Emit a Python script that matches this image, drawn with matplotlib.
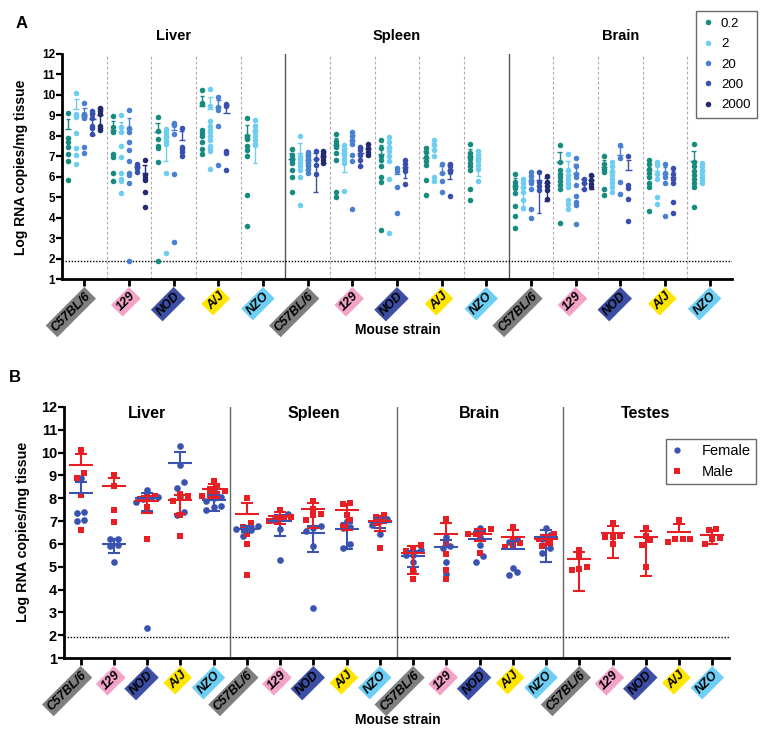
import numpy as np
import matplotlib
matplotlib.use("Agg")
import matplotlib.pyplot as plt
from matplotlib.lines import Line2D

plt.rcParams['font.family'] = ['Liberation Sans', 'DejaVu Sans']

# ---------------- data ----------------
strains = ['C57BL/6', '129', 'NOD', 'A/J', 'NZO']
strain_colors = ['#7f7f7f', '#f4a3c8', '#3d4fa5', '#ffe600', '#6dcff6']
tissues_a = ['Liver', 'Spleen', 'Brain']
tissues_b = ['Liver', 'Spleen', 'Brain', 'Testes']
doses = ['0.2', '2', '20', '200', '2000']
dose_colors = ['#178b80', '#6fcdf0', '#4a80d0', '#3a4fad', '#232a72']
lod = 1.9

# Panel A: per tissue -> per strain -> per dose (log RNA copies/mg)
liver_a = [
    [[9.1, 7.9, 7.7, 7.45, 7.1, 6.75, 5.85],
     [10.1, 9.05, 8.95, 8.9, 8.15, 7.4, 7.05, 6.6],
     [9.6, 9.05, 9.0, 8.95, 8.9, 8.85, 7.45, 7.15],
     [9.2, 9.05, 8.85, 8.5, 8.4, 8.1],
     [9.35, 9.3, 9.2, 9.05, 8.5, 8.4, 8.3]],
    [[8.95, 8.45, 8.2, 7.1, 6.95, 6.2, 5.8],
     [9.0, 8.45, 8.2, 7.5, 6.95, 6.2, 5.9, 5.8, 5.2],
     [9.25, 8.4, 8.2, 7.7, 7.3, 6.75, 6.2, 6.1, 5.7, 1.9],
     [6.6, 6.5, 6.45, 6.25],
     [6.8, 6.1, 5.95, 5.85, 5.25, 4.5]],
    [[8.9, 8.25, 7.85, 7.5, 7.4, 6.7, 1.9],
     [8.35, 8.2, 8.05, 7.9, 7.75, 7.6, 6.2, 2.25],
     [8.65, 8.55, 8.1, 6.15, 2.8],
     [8.4, 7.45, 7.35, 7.2, 7.0],
     []],
    [[10.25, 9.6, 9.55, 8.3, 8.15, 8.0, 7.7, 7.35, 7.1],
     [10.3, 9.45, 8.7, 8.5, 8.3, 8.2, 8.0, 7.8, 7.5, 7.35, 7.25, 6.4],
     [9.9, 9.4, 9.25, 8.5, 6.55],
     [9.55, 9.45, 7.25, 7.15, 6.35],
     []],
    [[8.85, 8.0, 7.9, 7.85, 7.5, 7.3, 7.0, 5.1, 3.6],
     [8.75, 8.5, 8.3, 8.2, 8.0, 7.8, 7.6, 7.55],
     [], [], []],
]
spleen_a = [
    [[7.35, 7.05, 6.9, 6.8, 6.65, 6.35, 6.0, 5.25],
     [8.0, 7.0, 6.9, 6.8, 6.65, 6.5, 6.35, 6.0, 4.6],
     [7.2, 7.1, 7.0, 6.9, 6.8, 6.7, 6.6, 6.5, 6.4, 6.2],
     [7.25, 6.85, 6.55, 6.15],
     [7.25, 7.1, 6.95, 6.8, 6.65]],
    [[8.1, 7.75, 7.6, 7.45, 7.15, 6.8, 5.25, 5.0],
     [7.55, 7.35, 7.2, 7.05, 6.85, 6.65, 5.3],
     [8.2, 8.0, 7.8, 7.6, 7.05, 6.75, 4.4],
     [7.45, 7.3, 7.05, 6.8, 6.5],
     [7.6, 7.4, 7.2, 7.05]],
    [[7.8, 7.4, 7.0, 6.8, 6.5, 6.0, 5.75, 3.4],
     [7.95, 7.7, 7.45, 7.25, 7.0, 6.75, 5.9, 3.25],
     [6.45, 6.3, 5.5, 4.25],
     [6.8, 6.6, 6.45, 6.3, 5.65],
     []],
    [[7.4, 7.2, 6.95, 6.75, 6.55, 5.85, 5.1],
     [7.8, 7.55, 7.3, 7.0, 6.0, 5.8],
     [6.6, 6.2, 5.8, 5.25],
     [6.6, 6.5, 6.35, 6.25, 5.05],
     []],
    [[7.6, 7.15, 7.0, 6.85, 6.65, 6.5, 6.35, 5.4, 4.85],
     [7.25, 7.05, 6.9, 6.75, 6.55, 6.4, 5.8],
     [], [], []],
]
brain_a = [
    [[6.15, 5.75, 5.6, 5.45, 5.2, 4.55, 4.1, 3.5],
     [5.9, 5.7, 5.5, 5.25, 4.85, 4.45],
     [6.25, 6.05, 5.85, 5.7, 5.4, 4.4, 4.0],
     [6.25, 5.75, 5.55, 5.35],
     [6.05, 5.75, 5.55, 5.35, 4.9]],
    [[7.55, 6.7, 6.35, 6.15, 6.0, 5.8, 5.6, 5.4, 3.75],
     [7.1, 6.35, 6.1, 5.9, 5.7, 5.5, 4.85, 4.65, 4.4],
     [6.9, 6.5, 6.15, 6.0, 5.6, 5.05, 4.75, 4.6, 3.7],
     [5.9, 5.7, 5.4],
     [6.1, 5.85, 5.65, 5.5]],
    [[7.0, 6.6, 6.4, 6.25, 5.4, 5.1],
     [6.7, 6.5, 6.3, 6.1, 5.9, 5.7, 5.5, 5.25],
     [7.55, 6.9, 5.75, 5.15],
     [7.0, 5.6, 5.45, 4.9, 3.85],
     []],
    [[6.8, 6.6, 6.4, 6.2, 6.0, 5.7, 5.5, 4.3],
     [6.7, 6.55, 6.15, 5.9, 5.0, 4.65],
     [6.6, 6.2, 6.0, 5.7, 4.1],
     [6.45, 6.15, 5.9, 5.7, 4.75, 4.25],
     []],
    [[7.6, 6.7, 6.5, 6.3, 6.1, 5.9, 5.7, 5.5, 4.5],
     [6.65, 6.5, 6.35, 6.15, 6.0, 5.85, 5.7],
     [], [], []],
]

# Panel B: per tissue -> per strain (Female / Male)
liver_f = [[8.9, 7.4, 7.35, 7.05, 7.0], [6.2, 6.2, 5.95, 5.9, 5.2],
           [8.35, 8.05, 8.0, 7.95, 7.85, 2.3], [10.3, 9.45, 8.7, 8.45, 8.05, 7.4, 7.25],
           [8.3, 8.05, 8.0, 7.9, 7.65, 7.6, 7.5]]
liver_m = [[10.1, 9.1, 8.9, 8.15, 6.6], [9.0, 8.55, 7.5, 6.95],
           [8.1, 8.05, 7.95, 7.6, 6.2], [8.2, 8.1, 8.0, 7.9, 7.25, 6.35],
           [8.75, 8.5, 8.4, 8.3, 8.2, 8.15, 8.1]]
spleen_f = [[6.8, 6.75, 6.7, 6.65, 6.6, 6.35], [7.3, 7.2, 7.05, 6.65, 5.3],
            [6.8, 6.7, 6.55, 5.9, 3.2], [7.0, 6.75, 6.7, 6.0, 5.8],
            [7.15, 7.1, 7.0, 6.85, 6.45]]
spleen_m = [[8.0, 6.9, 6.75, 6.45, 6.0, 4.65], [7.5, 7.2, 7.15, 7.05, 7.0],
            [7.9, 7.55, 7.3, 7.25, 7.05], [7.8, 7.75, 7.25, 7.05, 6.8],
            [7.25, 7.2, 7.0, 6.9, 5.8]]
brain_f = [[5.75, 5.5, 5.5, 5.2, 4.8], [6.3, 5.9, 5.8, 5.2, 4.7],
           [6.7, 6.3, 5.95, 5.45, 5.2], [6.2, 6.1, 4.95, 4.75, 4.65],
           [6.7, 6.4, 6.2, 5.8, 5.6]]
brain_m = [[5.95, 5.75, 5.7, 4.85, 4.45], [7.1, 6.0, 5.55, 4.85, 4.45],
           [6.65, 6.55, 6.45, 6.45, 5.6], [6.75, 6.15, 6.05, 5.9, 5.85],
           [6.45, 6.3, 6.2, 6.05, 5.9]]
testes_f = [[], [], [], [], []]
testes_m = [[5.75, 5.45, 5.0, 4.9, 4.85], [6.9, 6.35, 6.3, 6.3, 6.0],
            [6.7, 6.35, 6.15, 5.95, 5.0], [7.05, 6.2, 6.2, 6.2, 6.1],
            [6.65, 6.6, 6.25, 6.2, 6.0]]
sexes = ['Female', 'Male']
sex_colors = ['#3a52b0', '#e81e25']
sex_markers = ['o', 's']

# ---------------- helpers ----------------
W, H = 767, 739


def summary(vals):
    lin = 10.0 ** np.asarray(vals, float)
    m = lin.mean()
    s = lin.std(ddof=1) if len(lin) > 1 else 0.0
    lo = np.log10(m - s) if m - s > 0 else None
    return np.log10(m), np.log10(m + s), lo


def draw_bar(ax, x, vals, color, mw, cw, lw, z):
    if len(vals) == 0:
        return
    mean, hi, lo = summary(vals)
    ax.hlines(mean, x - mw, x + mw, color=color, lw=lw, zorder=z)
    bot = lo if lo is not None else mean
    ax.vlines(x, max(bot, 1.0), hi, color=color, lw=lw, zorder=z)
    ax.hlines(hi, x - cw, x + cw, color=color, lw=lw, zorder=z)
    if lo is not None and lo > 1:
        ax.hlines(lo, x - cw, x + cw, color=color, lw=lw, zorder=z)


def swarm_x(vals, xc, px_per_x, px_per_y, d):
    vals = np.asarray(vals, float)
    xs = np.full(len(vals), xc, float)
    order = np.argsort(vals)
    rows = []
    for i in order:
        if rows and (vals[i] - vals[rows[-1][0]]) * px_per_y < d * 0.9:
            rows[-1].append(i)
        else:
            rows.append([i])
    for r in rows:
        n = len(r)
        for k, i in enumerate(r):
            xs[i] = xc + (k - (n - 1) / 2) * d / px_per_x
    return xs


def style_axis(ax, ntis, ticksize, lblsize):
    ax.set_xlim(0, 5 * ntis)
    ax.set_ylim(1, 12)
    ax.spines['top'].set_visible(False)
    ax.spines['right'].set_visible(False)
    for s in ['left', 'bottom']:
        ax.spines[s].set_linewidth(2)
    ax.set_yticks(range(1, 13))
    ax.tick_params(axis='y', width=1.6, length=4, labelsize=ticksize, pad=1)
    for lbl in ax.get_yticklabels():
        lbl.set_fontweight('bold')
    ax.set_xticks(np.arange(5 * ntis) + 0.5)
    ax.set_xticklabels(strains * ntis, rotation=45, ha='right', va='top',
                       rotation_mode='anchor', fontsize=lblsize,
                       fontstyle='italic', fontweight='bold')
    ax.tick_params(axis='x', width=2, length=5, pad=3)
    for lbl, c in zip(ax.get_xticklabels(), strain_colors * ntis):
        lbl.set_bbox(dict(boxstyle='square,pad=0.18', facecolor=c, edgecolor='none'))
    ax.axhline(lod, color='black', ls=(0, (1, 1.2)), lw=1, zorder=1)


fig = plt.figure(figsize=(W / 100, H / 100), dpi=100)
axA = fig.add_axes([62 / W, 1 - 279 / H, 670 / W, 225 / H])
axB = fig.add_axes([64 / W, 1 - 658 / H, 665 / W, 251 / H])

# ---------------- Panel A ----------------
style_axis(axA, 3, 8.5, 9)
dose_offsets = [-0.36, -0.18, 0.0, 0.18, 0.35]
for i in range(1, 15):
    if i % 5 == 0:
        axA.axvline(i, color='#555555', lw=1, zorder=0)
    else:
        axA.axvline(i, color='#aaaaaa', lw=0.8, ls=(0, (2.5, 2)), zorder=0)
for t, data in enumerate([liver_a, spleen_a, brain_a]):
    for s, strain_data in enumerate(data):
        xc = t * 5 + s + 0.5
        for d, vals in enumerate(strain_data):
            if len(vals) == 0:
                continue
            x = xc + dose_offsets[d]
            draw_bar(axA, x, vals, dose_colors[d], 0.07, 0.05, 1.0, 2)
            axA.plot(np.full(len(vals), x), vals, 'o', ms=4.0, mew=0,
                     color=dose_colors[d], zorder=3, clip_on=False)
    axA.text(t * 5 + 2.5, 12.9, tissues_a[t], ha='center', va='center',
             fontsize=10.5, fontweight='bold', clip_on=False)

handlesA = [Line2D([], [], ls='none', marker='o', ms=4, mew=0, color=c) for c in dose_colors]
legA = fig.legend(handlesA, doses, loc='upper right', bbox_to_anchor=(757 / W, 1 - 11 / H),
                  borderaxespad=0, fontsize=9.5, frameon=True, fancybox=False,
                  edgecolor='#444444', handlelength=0.8, handletextpad=0.6,
                  labelspacing=0.62, borderpad=0.5)
legA.get_frame().set_linewidth(1)

# ---------------- Panel B ----------------
style_axis(axB, 4, 10.5, 9)
for i in (5, 10, 15):
    axB.axvline(i, color='#666666', lw=1, zorder=0)
px_x = 665 / 20
px_y = 251 / 11
data_f = [liver_f, spleen_f, brain_f, testes_f]
data_m = [liver_m, spleen_m, brain_m, testes_m]
for t in range(4):
    for s in range(5):
        xc = t * 5 + s + 0.5
        for k, dat in enumerate([data_f[t][s], data_m[t][s]]):
            if len(dat) == 0:
                continue
            xs = swarm_x(dat, xc, px_x, px_y, 7.5)
            axB.plot(xs, dat, sex_markers[k], ms=4.8 if k == 0 else 4.4, mew=0,
                     color=sex_colors[k], zorder=3 + k, clip_on=False)
        for k, dat in enumerate([data_f[t][s], data_m[t][s]]):
            draw_bar(axB, xc, dat, sex_colors[k], 0.36, 0.18, 1.5, 6 + k)
    axB.text(t * 5 + 2.5, 11.72, tissues_b[t], ha='center', va='center',
             fontsize=11.5, fontweight='bold')

handlesB = [Line2D([], [], ls='none', marker=m, ms=4.5, mew=0, color=c)
            for m, c in zip(sex_markers, sex_colors)]
legB = fig.legend(handlesB, sexes, loc='upper right', bbox_to_anchor=(756 / W, 1 - 439 / H),
                  borderaxespad=0, fontsize=10.5, frameon=True, fancybox=False,
                  edgecolor='#444444', handlelength=0.8, handletextpad=1.3,
                  labelspacing=0.45, borderpad=0.35)
legB.get_frame().set_linewidth(1)

# ---------------- labels ----------------
ylab = 'Log RNA copies/mg tissue'
fig.text(21 / W, 1 - 167 / H, ylab, rotation=90, ha='center', va='center',
         fontsize=10, fontweight='bold')
fig.text(23 / W, 1 - 532 / H, ylab, rotation=90, ha='center', va='center',
         fontsize=10.3, fontweight='bold')
fig.text(398 / W, 1 - 330 / H, 'Mouse strain', ha='center', va='center',
         fontsize=10, fontweight='bold')
fig.text(398 / W, 1 - 720 / H, 'Mouse strain', ha='center', va='center',
         fontsize=10, fontweight='bold')
fig.text(22 / W, 1 - 24 / H, 'A', ha='center', va='center', fontsize=12, fontweight='bold')
fig.text(15 / W, 1 - 377 / H, 'B', ha='center', va='center', fontsize=12, fontweight='bold')

fig.savefig('out.png', dpi=100)
